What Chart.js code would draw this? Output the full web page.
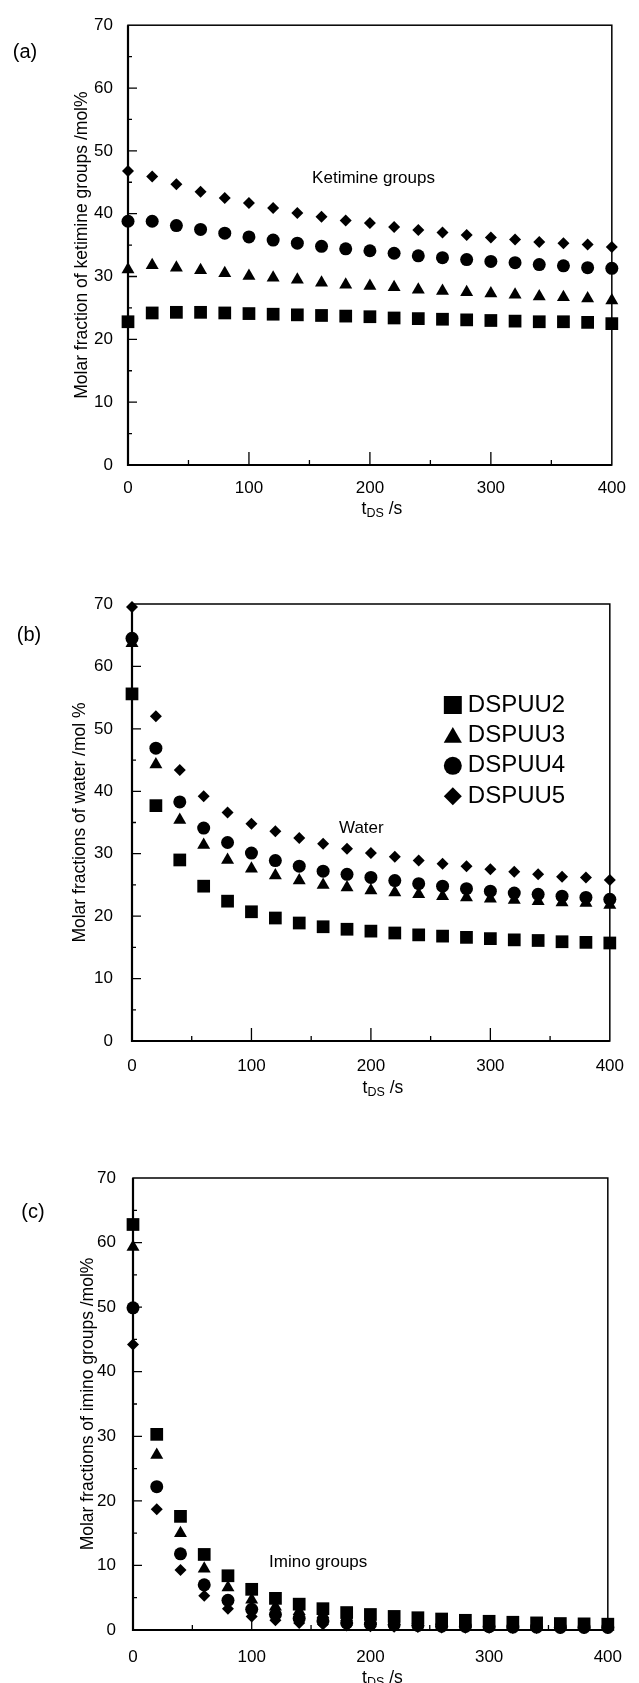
<!DOCTYPE html>
<html>
<head>
<meta charset="utf-8">
<script src="https://cdn.jsdelivr.net/npm/chart.js@4.4.0/dist/chart.umd.min.js"></script>
<style>
  body { margin: 0; background: #fff; }
  .panel { position: absolute; left: 0; width: 639px; }
</style>
</head>
<body>
<div class="panel" style="top:0px;height:525px"><canvas id="chartA" width="639" height="525"></canvas></div>
<div class="panel" style="top:525px;height:575px"><canvas id="chartB" width="639" height="575"></canvas></div>
<div class="panel" style="top:1100px;height:583px"><canvas id="chartC" width="639" height="583"></canvas></div>
<script>
// time axis (s) and tick labels
const times = [0, 20, 40, 60, 80, 100, 120, 140, 160, 180, 200, 220, 240, 260, 280, 300, 320, 340, 360, 380, 400];
const xTicks = [0, 100, 200, 300, 400];
const yTicks = [0, 10, 20, 30, 40, 50, 60, 70];
const seriesNames = ['DSPUU2', 'DSPUU3', 'DSPUU4', 'DSPUU5'];

// (a) ketimine groups, mol%
const ketimine2 = [22.8, 24.2, 24.3, 24.3, 24.2, 24.1, 24.0, 23.9, 23.8, 23.7, 23.6, 23.4, 23.3, 23.2, 23.1, 23.0, 22.9, 22.8, 22.8, 22.7, 22.5];
const ketimine3 = [31.1, 31.8, 31.4, 31.0, 30.5, 30.1, 29.8, 29.5, 29.0, 28.7, 28.5, 28.3, 27.9, 27.7, 27.5, 27.3, 27.1, 26.8, 26.7, 26.5, 26.2];
const ketimine4 = [38.8, 38.8, 38.1, 37.5, 36.9, 36.3, 35.8, 35.3, 34.8, 34.4, 34.1, 33.7, 33.3, 33.0, 32.7, 32.4, 32.2, 31.9, 31.7, 31.4, 31.3];
const ketimine5 = [46.8, 45.9, 44.7, 43.5, 42.5, 41.7, 40.9, 40.1, 39.5, 38.9, 38.5, 37.9, 37.4, 37.0, 36.6, 36.2, 35.9, 35.5, 35.3, 35.1, 34.7];

// (b) water, mol%
const water2 = [55.6, 37.7, 29.0, 24.8, 22.4, 20.7, 19.7, 18.9, 18.3, 17.9, 17.6, 17.3, 17.0, 16.8, 16.6, 16.4, 16.2, 16.1, 15.9, 15.8, 15.7];
const water3 = [63.7, 44.3, 35.4, 31.4, 29.0, 27.6, 26.5, 25.7, 25.0, 24.6, 24.1, 23.8, 23.5, 23.2, 23.0, 22.8, 22.6, 22.4, 22.2, 22.1, 21.8];
const water4 = [64.5, 46.9, 38.3, 34.1, 31.8, 30.1, 28.9, 28.0, 27.2, 26.7, 26.2, 25.7, 25.2, 24.8, 24.4, 24.0, 23.7, 23.5, 23.2, 23.0, 22.7];
const water5 = [69.5, 52.0, 43.4, 39.2, 36.6, 34.8, 33.6, 32.5, 31.6, 30.8, 30.1, 29.5, 28.9, 28.4, 28.0, 27.5, 27.1, 26.7, 26.3, 26.2, 25.8];

// (c) imino groups, mol%
const imino2 = [62.8, 30.3, 17.6, 11.7, 8.4, 6.3, 4.9, 4.0, 3.3, 2.7, 2.4, 2.1, 1.9, 1.7, 1.5, 1.35, 1.2, 1.1, 1.0, 0.95, 0.9];
const imino3 = [59.3, 27.1, 15.0, 9.5, 6.6, 4.7, 3.6, 2.9, 2.4, 2.0, 1.6, 1.4, 1.2, 1.0, 0.9, 0.8, 0.7, 0.65, 0.6, 0.55, 0.5];
const imino4 = [49.9, 22.2, 11.8, 7.0, 4.6, 3.2, 2.4, 1.8, 1.4, 1.1, 0.9, 0.8, 0.7, 0.6, 0.55, 0.5, 0.45, 0.45, 0.4, 0.4, 0.4];
const imino5 = [44.2, 18.7, 9.3, 5.3, 3.3, 2.1, 1.5, 1.1, 0.9, 0.7, 0.6, 0.5, 0.45, 0.4, 0.35, 0.35, 0.3, 0.3, 0.3, 0.3, 0.3];

const FONT = "'Liberation Sans', Arial, Helvetica, sans-serif";
const INK = '#000';
Chart.defaults.font.family = FONT;
Chart.defaults.color = INK;

// marker look per series (square, triangle, circle, diamond)
const pointStyles = ['rect', 'triangle', 'circle', 'rectRot'];
const pointRadii = [9, 7.5, 6.5, 6];

function makeDatasets(list) {
  return list.map((vals, i) => ({
    label: seriesNames[i],
    data: times.map((t, j) => ({ x: t, y: vals[j] })),
    pointStyle: pointStyles[i],
    pointRadius: pointRadii[i],
    backgroundColor: INK,
    borderColor: INK,
    borderWidth: 0,
    showLine: false,
    clip: false
  }));
}

// simple marker for the legend, same geometry as chart.js point styles
function drawMarker(ctx, style, x, y, r) {
  ctx.beginPath();
  if (style === 'rect') {
    const s = Math.SQRT1_2 * r;
    ctx.rect(x - s, y - s, 2 * s, 2 * s);
  } else if (style === 'triangle') {
    for (let k = 0; k < 3; k++) {
      const a = k * 2 * Math.PI / 3;
      const px = x + Math.sin(a) * r, py = y - Math.cos(a) * r;
      k ? ctx.lineTo(px, py) : ctx.moveTo(px, py);
    }
    ctx.closePath();
  } else if (style === 'circle') {
    ctx.arc(x, y, r, 0, 2 * Math.PI);
  } else {
    ctx.moveTo(x, y - r); ctx.lineTo(x + r, y); ctx.lineTo(x, y + r); ctx.lineTo(x - r, y);
    ctx.closePath();
  }
  ctx.fill();
}

// frame + inward ticks, then panel label, x title, note, legend
const panelPlugin = {
  id: 'panel',
  beforeDatasetsDraw(chart) {
    const { ctx, chartArea: a, scales: { x, y } } = chart;
    ctx.save();
    ctx.strokeStyle = INK;
    ctx.lineWidth = 1.5;
    ctx.strokeRect(a.left, a.top, a.right - a.left, a.bottom - a.top);
    ctx.lineWidth = 2.2;
    ctx.beginPath();
    ctx.moveTo(a.left, a.top); ctx.lineTo(a.left, a.bottom); ctx.lineTo(a.right, a.bottom);
    ctx.stroke();
    ctx.lineWidth = 1.3;
    ctx.beginPath();
    for (let v = 5; v < 70; v += 5) {
      const py = y.getPixelForValue(v);
      const len = v % 10 === 0 ? 9 : 4;
      ctx.moveTo(a.left, py); ctx.lineTo(a.left + len, py);
    }
    for (let v = 50; v < 400; v += 50) {
      const px = x.getPixelForValue(v);
      const len = v % 100 === 0 ? 13 : 5;
      ctx.moveTo(px, a.bottom); ctx.lineTo(px, a.bottom - len);
    }
    ctx.stroke();
    ctx.restore();
  },
  afterDraw(chart, args, opts) {
    const { ctx, chartArea: a, scales: { x, y } } = chart;
    ctx.save();
    ctx.fillStyle = INK;
    ctx.textBaseline = 'middle';

    // panel letter
    ctx.font = '20px ' + FONT;
    ctx.textAlign = 'center';
    ctx.fillText(opts.label, opts.labelPos[0], opts.labelPos[1]);

    // annotation in data coordinates
    ctx.font = '17px ' + FONT;
    ctx.fillText(opts.note, x.getPixelForValue(opts.noteAt[0]), y.getPixelForValue(opts.noteAt[1]));

    // x title: t with subscript DS
    const big = '17.5px ' + FONT, small = '12.5px ' + FONT;
    ctx.font = big; const w1 = ctx.measureText('t').width; const w3 = ctx.measureText(' /s').width;
    ctx.font = small; const w2 = ctx.measureText('DS').width;
    let tx = (a.left + a.right) / 2 + 12 - (w1 + w2 + w3) / 2;
    const ty = a.bottom + opts.xTitleOffset;
    ctx.textAlign = 'left';
    ctx.font = big; ctx.fillText('t', tx, ty); tx += w1;
    ctx.font = small; ctx.fillText('DS', tx, ty + 5); tx += w2;
    ctx.font = big; ctx.fillText(' /s', tx, ty);

    // legend inside plot (b only)
    if (opts.legend) {
      const mx = a.right - 157, lx = a.right - 142;
      const legendRadii = [12.7, 10.5, 9, 9];
      ctx.font = '24px ' + FONT;
      seriesNames.forEach((name, i) => {
        const ly = a.top + 101 + 30.4 * i;
        drawMarker(ctx, pointStyles[i], mx, ly + (i === 1 ? 2 : 0), legendRadii[i]);
        ctx.fillText(name, lx, ly);
      });
    }
    ctx.restore();
  }
};

function makeChart(id, series, cfg) {
  return new Chart(document.getElementById(id), {
    type: 'scatter',
    data: { datasets: makeDatasets(series) },
    options: {
      responsive: false,
      animation: false,
      events: [],
      layout: { padding: { top: cfg.padTop, right: cfg.padRight, left: 0, bottom: 0 } },
      plugins: {
        legend: { display: false },
        tooltip: { enabled: false },
        panel: cfg.panel
      },
      scales: {
        x: {
          type: 'linear', min: 0, max: 400,
          afterBuildTicks: s => { s.ticks = xTicks.map(v => ({ value: v })); },
          ticks: { padding: cfg.xTickPad, font: { size: 17 }, color: INK, maxRotation: 0 },
          grid: { display: false, drawTicks: false },
          border: { display: false },
          afterFit: s => { s.height = cfg.xHeight; }
        },
        y: {
          type: 'linear', min: 0, max: 70,
          afterBuildTicks: s => { s.ticks = yTicks.map(v => ({ value: v })); },
          ticks: { padding: cfg.yTickPad, font: { size: 17 }, color: INK },
          grid: { display: false, drawTicks: false },
          border: { display: false },
          title: { display: true, text: cfg.yTitle, font: { size: 17.5 }, color: INK, padding: { top: cfg.yTitlePad, bottom: 0 } },
          afterFit: s => { s.width = cfg.yWidth; }
        }
      }
    },
    plugins: [panelPlugin]
  });
}

makeChart('chartA', [ketimine2, ketimine3, ketimine4, ketimine5], {
  padTop: 20, padRight: 25, xHeight: 60, yWidth: 128,
  xTickPad: 13, yTickPad: 15, yTitlePad: 71.5,
  yTitle: 'Molar fraction of ketimine groups /mol%',
  panel: { label: '(a)', labelPos: [25, 52], note: 'Ketimine groups', noteAt: [203, 45.6], xTitleOffset: 44, legend: false }
});

makeChart('chartB', [water2, water3, water4, water5], {
  padTop: 79, padRight: 17, xHeight: 59, yWidth: 132,
  xTickPad: 15, yTickPad: 19, yTitlePad: 69.5,
  yTitle: 'Molar fractions of water /mol %',
  panel: { label: '(b)', labelPos: [29, 110], note: 'Water', noteAt: [192, 34.0], xTitleOffset: 47, legend: true }
});

makeChart('chartC', [imino2, imino3, imino4, imino5], {
  padTop: 78, padRight: 15, xHeight: 53, yWidth: 133,
  xTickPad: 17, yTickPad: 17, yTitlePad: 77.5,
  yTitle: 'Molar fractions of imino groups /mol%',
  panel: { label: '(c)', labelPos: [33, 112], note: 'Imino groups', noteAt: [156, 10.5], xTitleOffset: 48, legend: false }
});
</script>
</body>
</html>
